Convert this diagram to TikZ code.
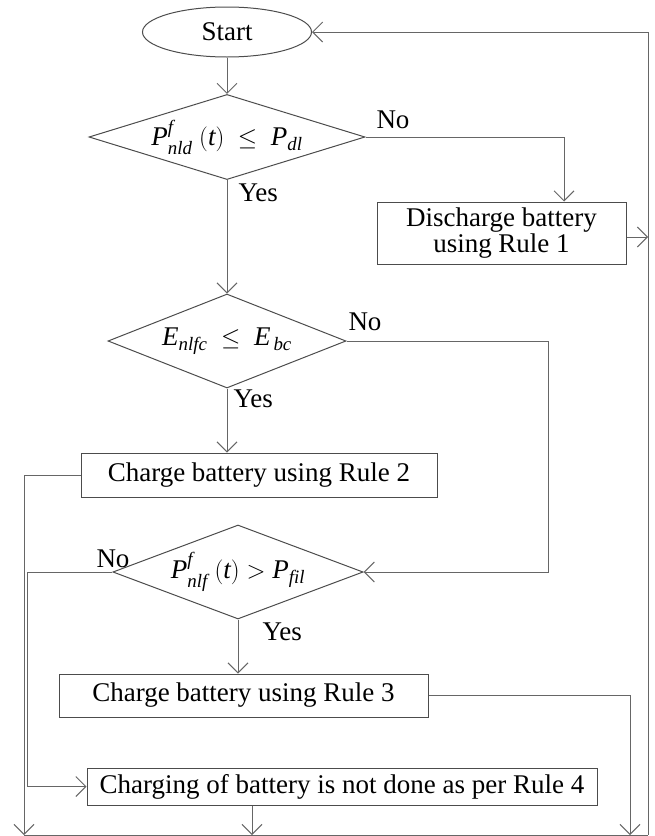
\documentclass[tikz,border=0pt]{standalone}
\usepackage{amsmath}
\usepackage{fontspec}
\setmainfont{Liberation Serif}
\usetikzlibrary{shapes.geometric, arrows.meta, positioning}
\newcommand{\vi}[1]{\textit{#1}}

\begin{document}
\begin{tikzpicture}[
  x=1pt, y=-1pt, line width=1pt,
  font=\fontsize{27}{26}\selectfont,
  term/.style={ellipse, draw=black!70, minimum width=169pt, minimum height=50pt, inner sep=0pt},
  dec/.style={diamond, draw=black!70, inner sep=0pt, aspect=3},
  proc/.style={rectangle, draw=black!70, align=center, inner sep=0pt},
  lbl/.style={anchor=base west, inner sep=0pt},
  arr/.style={draw=black!60, -{Straight Barb[length=10pt,width=20pt]}},
  ln/.style={draw=black!60}
]
\useasboundingbox (0,0) rectangle (654,836);
% Blocks
\node[term] (start) at (227,32) {Start};
\node[dec, minimum width=276pt, minimum height=76pt] (tst1) at (227,137)
  {$\vi{P}^{\vi{f}}_{\vi{nld}}\ (\vi{t})\ \le\ \vi{P}_{\vi{dl}}$};
\node[proc, minimum width=249pt, minimum height=62pt] (dis1) at (501.5,233)
  {Discharge battery\\using Rule 1};
\node[dec, minimum width=238pt, minimum height=94pt] (tst2) at (227,341)
  {$\vi{E}_{\vi{nlfc}}\ \le\ \vi{E}_{\,\vi{bc}}$};
\node[proc, minimum width=356pt, minimum height=44pt] (chg2) at (259,475)
  {Charge battery using Rule 2};
\node[dec, minimum width=224pt, minimum height=94pt] (tst3) at (238,572)
  {$\vi{P}^{\vi{f}}_{\vi{nlf}}\ (\vi{t}) > \vi{P}_{\vi{fil}}$};
\node[proc, minimum width=369pt, minimum height=43pt] (chg3) at (243.5,695.5)
  {Charge battery using Rule 3};
\node[proc, minimum width=510pt, minimum height=37pt] (nochg) at (342,786.5)
  {Charging of battery is not done as per Rule 4};
% Labels
\node[lbl] (no1) at (376,128) {No};
\node[lbl] (yes1) at (238,201) {Yes};
\node[lbl] (no2) at (348,330) {No};
\node[lbl] (yes2) at (233,407) {Yes};
\node[lbl] (no3) at (96,567) {No};
\node[lbl] (yes3) at (262,640) {Yes};
% Return path
\coordinate (rt) at (648,32);
\coordinate (rb) at (648,835);
\coordinate (lb) at (24,835);
\coordinate (e1) at (648,237);
\coordinate (m3) at (630,835);
\coordinate (m4) at (252,835);
% Connectors
\draw[arr] (start.south) -- (tst1.north);
\draw[arr] (tst1.east) -| ([xshift=62.5pt]dis1.north);
\draw[arr] (tst1.south) -- (tst2.north);
\draw[arr] ([yshift=-4pt]dis1.east) -- (e1);
\draw[arr] (tst2.east) -- ++(202,0) |- (tst3.east);
\draw[arr] (tst2.south) -- (tst2.south |- chg2.north);
\draw[arr] (chg2.west) -| (lb);
\draw[arr] (tst3.west) -- ++(-85,0) |- (nochg.west);
\draw[arr] (tst3.south) -- (tst3.south |- chg3.north);
\draw[arr] (chg3.east) -| (m3);
\draw[arr] (nochg.south -| m4) -- (m4);
\draw[ln] (lb) -- (rb);
\draw[arr] (rb) -- (rt) -- (start.east);
\end{tikzpicture}
\end{document}
